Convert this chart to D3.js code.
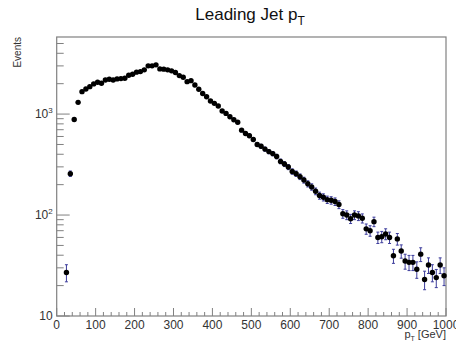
<!DOCTYPE html>
<html>
<head>
<meta charset="utf-8">
<script src="https://cdn.jsdelivr.net/npm/d3@7"></script>
<style>
  body { margin: 0; background: #fff; }
  text { font-family: "Liberation Sans", Arial, Helvetica, sans-serif; }
</style>
</head>
<body>
<div id="vis"></div>
<script>
// bin centres (GeV) and event counts
var binCenters = [25, 35, 45, 55, 65, 75, 85, 95, 105, 115, 125, 135, 145, 155, 165, 175, 185, 195,
    205, 215, 225, 235, 245, 255, 265, 275, 285, 295, 305, 315, 325, 335, 345, 355, 365, 375, 385, 395,
    405, 415, 425, 435, 445, 455, 465, 475, 485, 495, 505, 515, 525, 535, 545, 555, 565, 575, 585, 595,
    605, 615, 625, 635, 645, 655, 665, 675, 685, 695, 705, 715, 725, 735, 745, 755, 765, 775, 785, 795,
    805, 815, 825, 835, 845, 855, 865, 875, 885, 895, 905, 915, 925, 935, 945, 955, 965, 975, 985, 995];
var events = [27, 257, 885, 1307, 1667, 1773, 1870, 1990, 2066, 2020, 2178, 2214, 2178, 2230, 2245, 2266, 2428, 2484,
    2601, 2636, 2741, 3005, 3005, 3074, 2803, 2786, 2741, 2679, 2577, 2404, 2318, 2095, 2144, 1944, 1762, 1600, 1486, 1347,
    1277, 1201, 1071, 1016, 940, 880, 830, 693, 642, 610, 560, 500, 480, 450, 425, 406, 380, 340, 320, 299,
    270, 257, 240, 222, 204, 190, 172, 156, 150, 142, 140, 136, 127, 103, 100, 92, 100, 98, 93, 73,
    70, 86, 60, 61, 65, 60, 39.5, 58, 44, 35, 34, 34, 29, 41, 23, 32, 27, 24, 32, 25];

var xTicks = [0, 100, 200, 300, 400, 500, 600, 700, 800, 900, 1000];
var yTicks = [10, 100, 1000];
var yTickLabels = ['10', '10^2', '10^3'];

var width = 456, height = 347;
var margin = {top: 37, right: 10, bottom: 31, left: 56.7};

var svg = d3.select('#vis').append('svg')
    .attr('width', width)
    .attr('height', height);

var xScale = d3.scaleLinear()
    .domain([0, 1000])
    .range([margin.left, width - margin.right]);

var yScale = d3.scaleLog()
    .domain([10, 5800])
    .range([height - margin.bottom, margin.top]);

var axisColor = '#808080';

// frame
svg.append('rect')
    .attr('x', margin.left)
    .attr('y', margin.top)
    .attr('width', xScale(1000) - xScale(0))
    .attr('height', yScale(10) - yScale(5800))
    .attr('fill', 'none')
    .attr('stroke', axisColor)
    .attr('stroke-width', 1.2);

// x ticks (drawn inward)
var xMinor = d3.range(0, 1001, 20);
svg.append('g').selectAll('line').data(xMinor).enter().append('line')
    .attr('x1', function(d) { return xScale(d); })
    .attr('x2', function(d) { return xScale(d); })
    .attr('y1', yScale(10))
    .attr('y2', function(d) { return yScale(10) - (d % 100 === 0 ? 8 : 4); })
    .attr('stroke', axisColor);

svg.append('g').selectAll('text').data(xTicks).enter().append('text')
    .attr('x', function(d) { return xScale(d); })
    .attr('y', 329)
    .attr('text-anchor', 'middle')
    .attr('font-size', 12)
    .attr('fill', '#333')
    .text(function(d) { return d; });

// y ticks (log, inward)
var yMinor = [];
[10, 100, 1000].forEach(function(dec) {
    for (var k = 1; k <= 9; k++) {
        if (dec * k <= 5800) yMinor.push(dec * k);
    }
});
svg.append('g').selectAll('line').data(yMinor).enter().append('line')
    .attr('x1', xScale(0))
    .attr('x2', function(d) { return xScale(0) + (yTicks.indexOf(d) >= 0 ? 13 : 7); })
    .attr('y1', function(d) { return yScale(d); })
    .attr('y2', function(d) { return yScale(d); })
    .attr('stroke', axisColor);

var yLab = svg.append('g').selectAll('text').data(yTicks).enter().append('text')
    .attr('x', margin.left - 4)
    .attr('y', function(d) { return yScale(d) + 4; })
    .attr('text-anchor', 'end')
    .attr('font-size', 12)
    .attr('fill', '#333');
yLab.each(function(d, i) {
    var parts = yTickLabels[i].split('^');
    var t = d3.select(this);
    t.append('tspan').text(parts[0]);
    if (parts[1]) {
        t.append('tspan').attr('dy', -5).attr('font-size', 8).text(parts[1]);
    }
});

// axis titles
var xt = svg.append('text')
    .attr('x', xScale(1000))
    .attr('y', 338)
    .attr('text-anchor', 'end')
    .attr('font-size', 11)
    .attr('fill', '#333');
xt.append('tspan').text('p');
xt.append('tspan').attr('dy', 3).attr('font-size', 7).text('T');
xt.append('tspan').attr('dy', -3).text(' [GeV]');

svg.append('text')
    .attr('transform', 'translate(21,37) rotate(-90)')
    .attr('text-anchor', 'end')
    .attr('font-size', 10)
    .attr('fill', '#333')
    .text('Events');

// title
var title = svg.append('text')
    .attr('x', 250)
    .attr('y', 20)
    .attr('text-anchor', 'middle')
    .attr('font-size', 17)
    .attr('fill', '#111');
title.append('tspan').text('Leading Jet p');
title.append('tspan').attr('dy', 5).attr('font-size', 12).text('T');

// data
var data = binCenters.map(function(c, i) { return {x: c, y: events[i], err: Math.sqrt(events[i])}; });

var errColor = '#3c3c9c';
var eb = svg.append('g').selectAll('g').data(data).enter().append('g');
eb.append('line')
    .attr('x1', function(d) { return xScale(d.x); })
    .attr('x2', function(d) { return xScale(d.x); })
    .attr('y1', function(d) { return yScale(d.y + d.err); })
    .attr('y2', function(d) { return yScale(d.y - d.err); })
    .attr('stroke', errColor)
    .attr('stroke-width', 1);
[1, -1].forEach(function(s) {
    eb.append('line')
        .attr('x1', function(d) { return xScale(d.x) - 1.5; })
        .attr('x2', function(d) { return xScale(d.x) + 1.5; })
        .attr('y1', function(d) { return yScale(d.y + s * d.err); })
        .attr('y2', function(d) { return yScale(d.y + s * d.err); })
        .attr('stroke', errColor)
        .attr('stroke-width', 1);
});

svg.append('g').selectAll('circle').data(data).enter().append('circle')
    .attr('cx', function(d) { return xScale(d.x); })
    .attr('cy', function(d) { return yScale(d.y); })
    .attr('r', 2.7)
    .attr('fill', '#000');
</script>
</body>
</html>
